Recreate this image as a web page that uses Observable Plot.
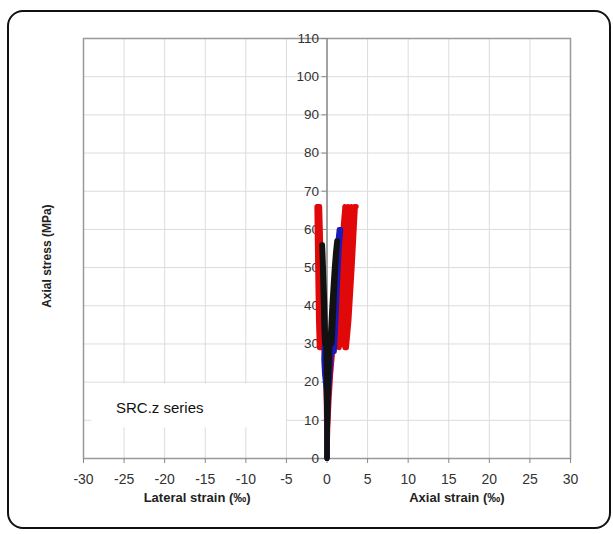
<!DOCTYPE html>
<html>
<head>
<meta charset="utf-8">
<script src="https://cdn.jsdelivr.net/npm/d3@7"></script>
<script src="https://cdn.jsdelivr.net/npm/@observablehq/plot@0.6"></script>
<style>
  html, body { margin: 0; padding: 0; background: #fff; }
  #wrap { position: relative; width: 613px; height: 534px; overflow: hidden; }
  #frame { position: absolute; left: 7px; top: 10px; width: 600px; height: 515px;
           border: 2px solid #111; border-radius: 16px; pointer-events: none; }
  #chart { position: absolute; left: 0; top: 0; }
</style>
</head>
<body>
<div id="wrap"><div id="chart"></div><div id="frame"></div></div>
<script>
// ---- data (strain in ‰, stress in MPa) ----
const xTicks = [-30, -25, -20, -15, -10, -5, 0, 5, 10, 15, 20, 25, 30];
const yTicks = [0, 10, 20, 30, 40, 50, 60, 70, 80, 90, 100, 110];

const redLateral = [[0,0],[-0.05,8],[-0.1,15],[-0.2,22],[-0.35,28],[-0.5,36],[-0.65,46],[-0.8,56],[-0.9,66],[-0.8,58],[-0.7,46],[-0.6,36],[-0.55,29],[-0.65,30],[-0.75,40],[-0.85,52],[-1.0,66],[-0.9,56],[-0.8,44],[-0.7,33],[-0.7,29],[-0.8,32],[-0.9,44],[-1.0,56],[-1.1,66],[-1.0,55],[-0.9,42],[-0.85,30],[-0.9,29],[-1.0,38],[-1.1,52],[-1.2,66],[-1.1,54],[-1.0,40],[-0.95,29],[-1.05,36],[-1.15,50],[-1.25,66]];
const redAxial = [[0,0],[0.1,8],[0.25,15],[0.45,22],[0.7,28],[1.0,36],[1.4,46],[1.8,56],[2.2,66],[2.0,58],[1.6,46],[1.2,34],[1.0,29],[1.3,30],[1.7,40],[2.1,52],[2.6,66],[2.4,56],[2.0,44],[1.6,33],[1.5,29],[1.8,32],[2.2,44],[2.6,56],[3.0,66],[2.8,55],[2.4,42],[2.1,30],[2.2,29],[2.6,38],[3.0,52],[3.4,66],[3.2,56],[2.8,44],[2.5,33],[2.4,29],[2.7,36],[3.1,50],[3.5,66],[3.6,66]];
const blueLateral = [[0,0],[-0.02,10],[-0.1,18],[-0.3,22],[-0.4,26],[-0.3,30],[-0.4,38],[-0.45,45]];
const blueAxial = [[0,0],[0.05,8],[0.15,15],[0.3,20],[0.45,25],[0.6,30],[0.8,38],[1.0,45],[1.2,52],[1.4,58],[1.5,60],[1.3,52],[1.0,40],[0.8,30],[0.9,28],[1.1,36],[1.3,46],[1.5,55],[1.7,60]];
const blackLateral = [[0,0],[-0.02,6],[-0.04,12],[-0.06,18],[-0.1,24],[-0.15,30],[-0.22,36],[-0.3,42],[-0.4,48],[-0.5,54],[-0.55,56],[-0.45,48],[-0.35,38],[-0.3,30],[-0.4,36],[-0.5,45],[-0.6,53],[-0.65,56]];
const blackAxial = [[0,0],[0.03,4],[0.06,8],[0.1,12],[0.15,16],[0.2,20],[0.28,25],[0.36,30],[0.48,35],[0.6,40],[0.75,45],[0.9,50],[1.05,54],[1.2,57],[1.0,50],[0.8,42],[0.65,35],[0.6,30],[0.7,33],[0.85,40],[1.0,47],[1.15,53],[1.3,57]];

const seriesList = [
  {name: "red", color: "#e00808", curves: [redLateral, redAxial]},
  {name: "blue", color: "#1a1ab8", curves: [blueLateral, blueAxial]},
  {name: "black", color: "#111111", curves: [blackLateral, blackAxial]}
];
const xLabels = [{x: -16, text: "Lateral strain (‰)"}, {x: 16, text: "Axial strain (‰)"}];
const yLabel = "Axial stress (MPa)";
const seriesLabel = "SRC.z series";

const font = "Liberation Sans, Arial, sans-serif";
const lineMarks = [];
for (const s of seriesList) {
  for (const c of s.curves) {
    lineMarks.push(Plot.line(c, {x: d => d[0], y: d => d[1], stroke: s.color, strokeWidth: 5, strokeLinejoin: "round", curve: "linear"}));
  }
}

const chart = Plot.plot({
  width: 613,
  height: 534,
  marginLeft: 83,
  marginRight: 43,
  marginTop: 38,
  marginBottom: 76,
  style: {fontFamily: font, fontSize: "13px", background: "transparent"},
  x: {type: "linear", domain: [-30, 30], axis: null},
  y: {type: "linear", domain: [0, 110], axis: null},
  marks: [
    Plot.gridX(xTicks, {stroke: "#dcdcdc", strokeOpacity: 1}),
    Plot.gridY(yTicks, {stroke: "#dcdcdc", strokeOpacity: 1}),
    Plot.rect([0], {x1: -29, x2: -5, y1: 8, y2: 19.5, fill: "white"}),
    Plot.text([seriesLabel], {x: -26, y: 13.3, text: d => d, textAnchor: "start", fontSize: 15, fill: "#111"}),
    Plot.frame({stroke: "#999", strokeWidth: 1.5}),
    Plot.ruleX([0], {stroke: "#888", strokeWidth: 1.5}),
    Plot.ruleY(yTicks, {y: d => d, x1: 0, x2: 0, insetLeft: -5, stroke: "#888"}),
    Plot.text(yTicks, {x: 0, y: d => d, text: d => String(d), dx: -8, textAnchor: "end", fontSize: 13.5, fill: "#333"}),
    Plot.ruleX(xTicks, {x: d => d, y1: 0, y2: 0, insetBottom: -5, stroke: "#888"}),
    Plot.text(xTicks, {x: d => d, y: 0, text: d => String(d), dy: 21, fontSize: 14, fill: "#333"}),
    ...lineMarks,
    Plot.text(xLabels, {x: "x", y: 0, text: "text", dy: 39, fontSize: 13, fontWeight: "bold", fill: "#222"}),
    Plot.text([yLabel], {frameAnchor: "left", y: 53, text: d => d, dx: -36, rotate: -90, textAnchor: "middle", fontSize: 12, fontWeight: "bold", fill: "#222"})
  ]
});
document.getElementById("chart").appendChild(chart);
</script>
</body>
</html>
